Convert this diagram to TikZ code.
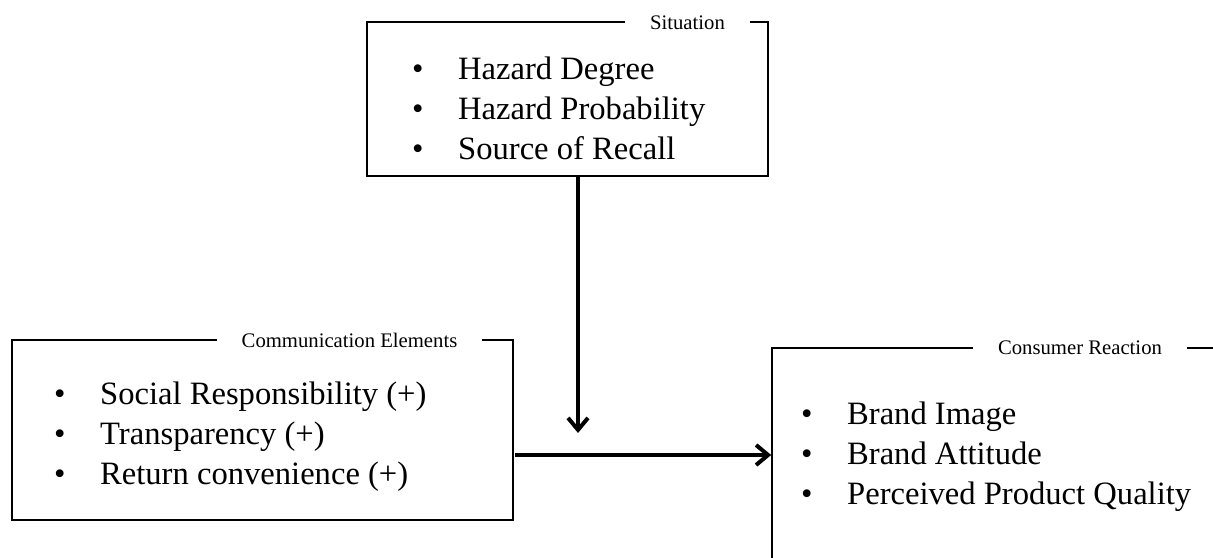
\documentclass[tikz,border=0pt]{standalone}
\usepackage{fontspec}
\setmainfont{Liberation Serif}
\usetikzlibrary{arrows.meta}

\tikzset{
  frame/.style={draw,line width=1.6pt,inner sep=0pt},
  tag/.style={fill=white,inner xsep=25pt,inner ysep=1pt,font=\fontsize{20.7}{24}\selectfont},
  items/.style={anchor=base west,inner sep=0pt,align=left,font=\fontsize{32.6}{40}\selectfont},
  flow/.style={line width=4pt,-{Straight Barb[length=12pt,width=20pt,line width=4pt]}}
}
\newcommand{\bul}{\makebox[46pt][l]{\textbullet}}

\begin{document}
\begin{tikzpicture}[x=1pt,y=-1pt]
\useasboundingbox (0,0) rectangle (1213,557);

\node[frame,minimum width=401pt,minimum height=154pt] (sit) at (567.5,99) {};
\node[frame,minimum width=501pt,minimum height=180pt] (comm) at (262.5,430) {};
\node[frame,minimum width=458pt,minimum height=252pt] (react) at (1001,474) {};

\node[tag] (sittag) at (687.5,23) {Situation};
\node[tag] (commtag) at (349.5,340) {Communication Elements};
\node[tag] (reacttag) at (1080,348) {Consumer Reaction};

% anchor is the baseline of the last line
\node[items] (sitlist) at (412,159) {\bul Hazard Degree\\ \bul Hazard Probability\\ \bul Source of Recall};
\node[items] (commlist) at (54,484) {\bul Social Responsibility (+)\\ \bul Transparency (+)\\ \bul Return convenience (+)};
\node[items] (reactlist) at (801,504) {\bul Brand Image\\ \bul Brand Attitude\\ \bul Perceived Product Quality};

\coordinate (drop) at (578,433);
\coordinate (link) at (515,455);

\draw[flow] (sit.south -| drop) -- (drop);
\draw[flow] (link) -- (link -| react.west);

\end{tikzpicture}
\end{document}
